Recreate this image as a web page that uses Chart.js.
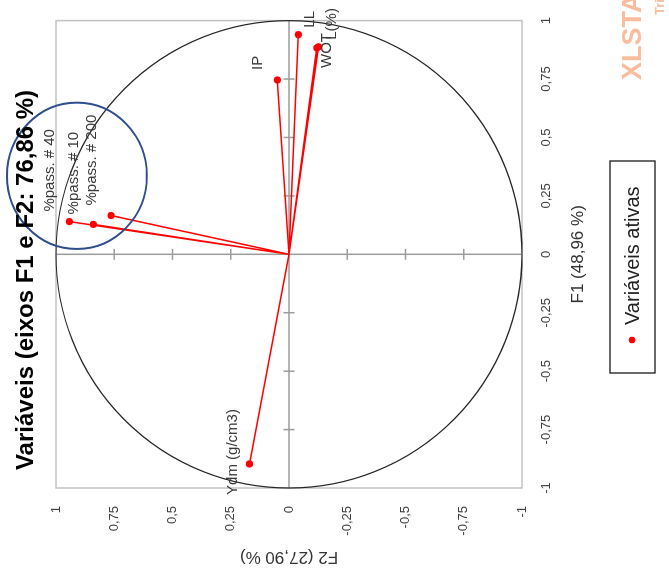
<!DOCTYPE html>
<html>
<head>
<meta charset="utf-8">
<script src="https://cdn.jsdelivr.net/npm/chart.js@4/dist/chart.umd.min.js"></script>
<style>
  html, body { margin: 0; padding: 0; background: #fff; width: 669px; height: 582px; overflow: hidden; }
  /* the correlation circle is laid out upright, then turned a quarter turn */
  #wrap { position: absolute; left: 0; top: 0; width: 582px; height: 669px;
          transform-origin: 0 0; transform: translateY(582px) rotate(-90deg); background: #fff; }
</style>
</head>
<body>
<div id="wrap"><canvas id="c" width="582" height="669"></canvas></div>
<script>
// Variable loadings on the first two factors
const variables = ['%pass. # 10', '%pass. # 40', '%pass. # 200', 'LL', 'IP', 'WOT', 'L(%)', 'Ydm (g/cm3)'];
const f1Values  = [0.128, 0.140, 0.166, 0.940, 0.746, 0.883, 0.888, -0.897];
const f2Values  = [0.840, 0.943, 0.764, -0.040, 0.050, -0.119, -0.127, 0.170];

const tickValues = [-1, -0.75, -0.5, -0.25, 0, 0.25, 0.5, 0.75, 1];
const tickLabels = ['-1', '-0,75', '-0,5', '-0,25', '0', '0,25', '0,5', '0,75', '1'];

const chartTitle = 'Variáveis (eixos F1 e F2: 76,86 %)';
const xTitle = 'F1 (48,96 %)';
const yTitle = 'F2 (27,90 %)';
const seriesName = 'Variáveis ativas';

// hand-drawn highlight around the grain-size variables (data units)
const highlightCenter = [0.336, 0.91];
const highlightRadius = [0.313, 0.30];

// label placement relative to each point, in pixels
const labelOffset = {
  _default: [10, -19],
  'Ydm (g/cm3)': [-31, -17],
  'LL': [7, 12],
  'WOT': [-20, 10],
  'L(%)': [7, 13]
};

const FONT = '"Liberation Sans", Arial, sans-serif';
const RED = '#ff0000';

const decor = {
  id: 'decor',
  beforeDatasetsDraw(chart) {
    const { ctx, chartArea: a, scales: { x, y } } = chart;
    const px = v => x.getPixelForValue(v), py = v => y.getPixelForValue(v);
    ctx.save();
    // plot frame
    ctx.strokeStyle = '#c4c4c4'; ctx.lineWidth = 1.5;
    ctx.strokeRect(a.left, a.top, a.right - a.left, a.bottom - a.top);
    // axes through the origin with cross ticks
    ctx.strokeStyle = '#9c9c9c'; ctx.lineWidth = 1.5;
    ctx.beginPath();
    ctx.moveTo(a.left, py(0)); ctx.lineTo(a.right, py(0));
    ctx.moveTo(px(0), a.top); ctx.lineTo(px(0), a.bottom);
    tickValues.forEach(v => {
      if (v === 0 || Math.abs(v) === 1) return;
      ctx.moveTo(px(v), py(0) - 5.5); ctx.lineTo(px(v), py(0) + 5.5);
      ctx.moveTo(px(0) - 5.5, py(v)); ctx.lineTo(px(0) + 5.5, py(v));
    });
    ctx.stroke();
    // unit correlation circle
    ctx.strokeStyle = '#262626'; ctx.lineWidth = 1.2;
    ctx.beginPath();
    ctx.ellipse(px(0), py(0), px(1) - px(0), py(0) - py(1), 0, 0, Math.PI * 2);
    ctx.stroke();
    // vectors from the origin
    ctx.strokeStyle = RED; ctx.lineWidth = 1.5;
    ctx.beginPath();
    f1Values.forEach((v, i) => { ctx.moveTo(px(0), py(0)); ctx.lineTo(px(v), py(f2Values[i])); });
    ctx.stroke();
    ctx.restore();
  },
  afterDatasetsDraw(chart) {
    const { ctx, chartArea: a, scales: { x, y } } = chart;
    const px = v => x.getPixelForValue(v), py = v => y.getPixelForValue(v);
    ctx.save();
    // highlight ellipse
    ctx.strokeStyle = '#2f4d8c'; ctx.lineWidth = 2;
    ctx.beginPath();
    ctx.ellipse(px(highlightCenter[0]), py(highlightCenter[1]),
      Math.abs(px(highlightRadius[0]) - px(0)), Math.abs(py(0) - py(highlightRadius[1])), 0, 0, Math.PI * 2);
    ctx.stroke();

    // point labels
    ctx.fillStyle = '#3a3a3a';
    ctx.font = '15px ' + FONT;
    ctx.textAlign = 'left'; ctx.textBaseline = 'middle';
    variables.forEach((name, i) => {
      const off = labelOffset[name] || labelOffset._default;
      ctx.fillText(name, px(f1Values[i]) + off[0], py(f2Values[i]) + off[1]);
    });

    // chart title
    ctx.fillStyle = '#000';
    ctx.font = 'bold 24px ' + FONT;
    ctx.textAlign = 'center';
    ctx.fillText(chartTitle, chart.width / 2 + 11, 26);

    // axis titles
    ctx.fillStyle = '#333';
    ctx.font = '17px ' + FONT;
    ctx.fillText(xTitle, (a.left + a.right) / 2, a.bottom + 56);
    ctx.save();
    ctx.translate(25, (a.top + a.bottom) / 2);
    ctx.rotate(-Math.PI / 2);
    ctx.fillText(yTitle, 0, 0);
    ctx.restore();

    // legend
    const lx = 209, ly = 610, lw = 212, lh = 45;
    ctx.strokeStyle = '#1a1a1a'; ctx.lineWidth = 1.3;
    ctx.strokeRect(lx, ly, lw, lh);
    ctx.fillStyle = RED;
    ctx.beginPath(); ctx.arc(lx + 33, ly + 22, 3.3, 0, Math.PI * 2); ctx.fill();
    ctx.fillStyle = '#222';
    ctx.font = '20px ' + FONT;
    ctx.textAlign = 'left';
    ctx.fillText(seriesName, lx + 48, ly + 23);

    // watermark
    ctx.fillStyle = 'rgba(248, 178, 140, 0.85)';
    ctx.font = 'bold 27px ' + FONT;
    ctx.textBaseline = 'alphabetic';
    ctx.fillText('XLSTAT', 502, 641);
    ctx.font = 'bold 13px ' + FONT;
    ctx.fillText('Trial', 567, 664);
    ctx.restore();
  }
};

const tickFont = { family: FONT, size: 13 };

new Chart(document.getElementById('c'), {
  type: 'scatter',
  data: {
    datasets: [{
      label: seriesName,
      data: variables.map((n, i) => ({ x: f1Values[i], y: f2Values[i] })),
      backgroundColor: RED,
      borderColor: RED,
      pointRadius: 3.6,
      pointHoverRadius: 3.6,
      borderWidth: 0
    }]
  },
  options: {
    responsive: false,
    animation: false,
    events: [],
    layout: { padding: { top: 56, right: 15, left: 0, bottom: 0 } },
    plugins: { legend: { display: false }, title: { display: false }, tooltip: { enabled: false } },
    scales: {
      x: {
        type: 'linear', min: -1, max: 1,
        afterBuildTicks: s => { s.ticks = tickValues.map(v => ({ value: v })); },
        afterFit: s => { s.height = 147; },
        grid: { display: false, drawTicks: false },
        border: { display: false },
        ticks: { padding: 17, maxRotation: 0, autoSkip: false, font: tickFont, color: '#404040',
                 callback: (v, i) => tickLabels[i] }
      },
      y: {
        type: 'linear', min: -1, max: 1,
        afterBuildTicks: s => { s.ticks = tickValues.map(v => ({ value: v })); },
        afterFit: s => { s.width = 94; },
        grid: { display: false, drawTicks: false },
        border: { display: false },
        ticks: { padding: 18, autoSkip: false, font: tickFont, color: '#404040',
                 callback: (v, i) => tickLabels[i] }
      }
    }
  },
  plugins: [decor]
});
</script>
</body>
</html>
